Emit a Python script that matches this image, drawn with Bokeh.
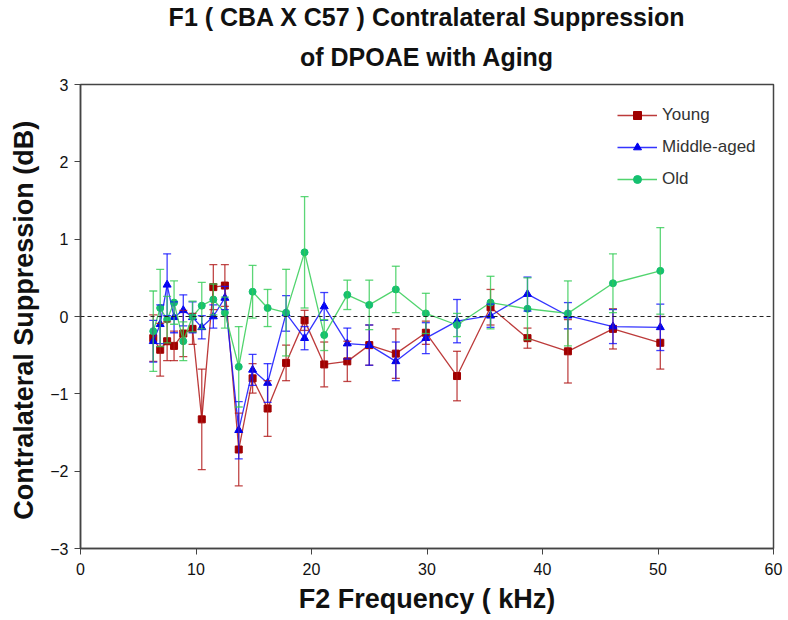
from bokeh.plotting import figure
from bokeh.models import (ColumnDataSource, Whisker, TeeHead, Span, Legend,
                          LegendItem, Title, Range1d, FixedTicker)
from bokeh.embed import file_html
from bokeh.resources import INLINE

# ---- data ----
freq = [6.3, 6.9, 7.5, 8.1, 8.9, 9.7, 10.5, 11.5, 12.5, 13.7, 14.9, 16.2,
        17.8, 19.4, 21.1, 23.1, 25.0, 27.3, 29.9, 32.6, 35.5, 38.7, 42.2,
        46.1, 50.2]

young = [-0.28, -0.43, -0.32, -0.38, -0.22, -0.16, -1.33, 0.38, 0.40, -1.72,
         -0.80, -1.19, -0.60, -0.05, -0.62, -0.58, -0.37, -0.48, -0.21, -0.77,
         0.12, -0.28, -0.45, -0.16, -0.34]
young_err = [0.30, 0.34, 0.25, 0.19, 0.30, 0.20, 0.65, 0.29, 0.27, 0.47,
             0.19, 0.36, 0.23, 0.13, 0.29, 0.26, 0.26, 0.32, 0.15, 0.32,
             0.23, 0.13, 0.41, 0.26, 0.34]

middle = [-0.32, -0.10, 0.41, -0.01, 0.08, -0.01, -0.14, 0.00, 0.24, -1.47,
          -0.69, -0.86, 0.04, -0.28, 0.13, -0.35, -0.37, -0.58, -0.28, -0.06,
          0.01, 0.29, 0.01, -0.13, -0.14]
middle_err = [0.27, 0.25, 0.40, 0.20, 0.20, 0.20, 0.15, 0.15, 0.15, 0.37,
              0.20, 0.25, 0.23, 0.15, 0.18, 0.20, 0.26, 0.25, 0.20, 0.28,
              0.15, 0.22, 0.17, 0.22, 0.30]

old = [-0.19, 0.11, -0.04, 0.18, -0.32, 0.00, 0.14, 0.22, 0.05, -0.65,
       0.32, 0.11, 0.05, 0.83, -0.24, 0.28, 0.15, 0.35, 0.04, -0.11,
       0.18, 0.10, 0.04, 0.43, 0.59]
old_err = [0.52, 0.50, 0.30, 0.28, 0.25, 0.20, 0.30, 0.20, 0.20, 0.52,
           0.34, 0.24, 0.56, 0.72, 0.20, 0.19, 0.32, 0.30, 0.26, 0.15,
           0.34, 0.40, 0.42, 0.38, 0.56]

series_names = ["Young", "Middle-aged", "Old"]
x_ticks = [0, 10, 20, 30, 40, 50, 60]
y_ticks = [-3, -2, -1, 0, 1, 2, 3]

FONT = "Liberation Sans"

p = figure(width=788, height=620, output_backend="svg", toolbar_location=None,
           x_range=Range1d(0, 60), y_range=Range1d(-3, 3),
           min_border_left=80, min_border_right=15, min_border_top=84,
           min_border_bottom=72)
p.background_fill_color = "white"
p.border_fill_color = "white"
p.outline_line_color = "#444444"
p.outline_line_width = 1.5
p.grid.visible = False

# titles (two lines, each centred)
p.add_layout(Title(text="of DPOAE with Aging", align="center",
                   text_font=FONT, text_font_size="25px", text_font_style="bold",
                   text_color="#111111", offset=-4, standoff=28), "above")
p.add_layout(Title(text="F1 ( CBA X C57 ) Contralateral Suppression", align="center",
                   text_font=FONT, text_font_size="25px", text_font_style="bold",
                   text_color="#111111", offset=-4, standoff=-8), "above")

for ax in (p.xaxis[0], p.yaxis[0]):
    ax.axis_line_color = "#444444"
    ax.axis_line_width = 1.5
    ax.major_tick_line_color = "#444444"
    ax.major_tick_in = 0
    ax.major_tick_out = 6
    ax.minor_tick_line_color = None
    ax.major_label_text_font = FONT
    ax.major_label_text_font_size = "16px"
    ax.major_label_text_color = "#111111"
    ax.axis_label_text_font = FONT
    ax.axis_label_text_font_size = "27px"
    ax.axis_label_text_font_style = "bold"
    ax.axis_label_text_color = "#111111"

p.xaxis.ticker = FixedTicker(ticks=x_ticks)
p.yaxis.ticker = FixedTicker(ticks=y_ticks)
p.xaxis.axis_label = "F2 Frequency ( kHz)"
p.yaxis.axis_label = "Contralateral Suppression  (dB)"
p.xaxis.major_label_standoff = 8
p.yaxis.major_label_standoff = 6
p.xaxis.axis_label_standoff = 6
p.yaxis.axis_label_standoff = 8

p.add_layout(Span(location=0, dimension="width", line_color="#222222",
                  line_dash="4 3", line_width=1.2))

styles = [
    ("#B01818", "#A00000", "square", 7, young, young_err),
    ("#1010FF", "#0000EE", "triangle", 8, middle, middle_err),
    ("#33CC55", "#15C070", "circle", 7, old, old_err),
]

items = []
for name, (lc, mc, marker, size, vals, errs) in zip(series_names, styles):
    src = ColumnDataSource(dict(
        x=freq, y=vals,
        upper=[v + e for v, e in zip(vals, errs)],
        lower=[v - e for v, e in zip(vals, errs)],
    ))
    w = Whisker(source=src, base="x", upper="upper", lower="lower",
                line_color=lc, line_width=1.3, line_alpha=0.8,
                upper_head=TeeHead(size=8, line_color=lc, line_width=1.3, line_alpha=0.8),
                lower_head=TeeHead(size=8, line_color=lc, line_width=1.3, line_alpha=0.8),
                level="glyph")
    p.add_layout(w)
    ln = p.line("x", "y", source=src, line_color=lc, line_width=1.3, line_alpha=0.85)
    sc = p.scatter("x", "y", source=src, marker=marker, size=size,
                   fill_color=mc, line_color=mc)
    items.append(LegendItem(label=name, renderers=[ln, sc]))

legend = Legend(items=items, location=(537, 359), orientation="vertical",
                glyph_width=40, glyph_height=20, spacing=12, padding=0, margin=0,
                label_text_font=FONT, label_text_font_size="17px",
                label_text_color="#333333", label_standoff=5,
                background_fill_alpha=0, border_line_color=None)
p.add_layout(legend)

open("out.html", "w").write(file_html(p, INLINE))
